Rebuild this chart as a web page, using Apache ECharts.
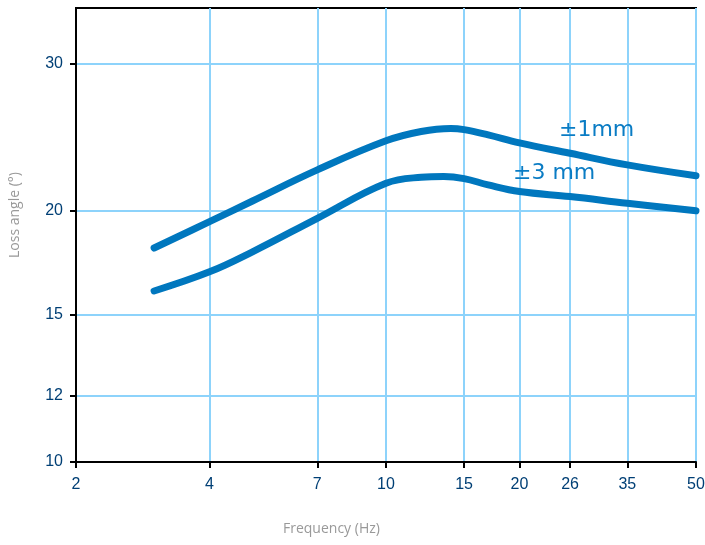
<!DOCTYPE html>
<html>
<head>
<meta charset="utf-8">
<script src="https://cdn.jsdelivr.net/npm/echarts@6/dist/echarts.min.js"></script>
<style>html,body{margin:0;padding:0;background:#fff}#c{width:705px;height:545px}</style>
</head>
<body>
<div id="c"></div>
<script>
// Frequency (Hz) points
var freq1 = [3, 4, 5, 7, 10, 12, 14, 15, 17, 20, 26, 35, 50];
var loss1 = [18.05, 19.41, 20.55, 22.39, 24.26, 24.89, 25.1, 25.02, 24.66, 24.12, 23.44, 22.70, 22.03];
var freq3 = [3, 4, 5, 7, 10, 12, 13.5, 15, 17, 20, 26, 35, 50];
var loss3 = [16.03, 16.90, 17.86, 19.59, 21.58, 21.94, 21.99, 21.86, 21.48, 21.09, 20.80, 20.42, 20.00];
var xTicks = [2, 4, 7, 10, 15, 20, 26, 35, 50];
var yTicks = [10, 12, 15, 20, 30];
var xRange = [2, 50];
var yRange = [10, 35];
var labels = ['±1mm', '±3 mm'];

var L = Math.log10;
function pts(f, v) { return f.map(function (x, i) { return [L(x), L(v[i])]; }); }
var fmt = function (v) { return String(Math.round(Math.pow(10, v))); };

var chart = echarts.init(document.getElementById('c'), null, { renderer: 'canvas' });
var lineColor = '#0077be';
var tickFont = { color: '#003f75', fontSize: 16, fontFamily: 'Liberation Sans, Arial, sans-serif' };
chart.setOption({
  animation: false,
  grid: { left: 76, right: 9, top: 8, bottom: 83, outerBoundsMode: 'none', containLabel: false,
          show: true, borderColor: '#000', borderWidth: 2, backgroundColor: 'transparent' },
  xAxis: {
    type: 'value', min: L(xRange[0]), max: L(xRange[1]),
    axisLine: { show: true, onZero: false, lineStyle: { color: '#000', width: 2 } },
    axisTick: { show: true, length: 6, lineStyle: { color: '#000', width: 2 }, customValues: xTicks.map(L) },
    axisLabel: Object.assign({ margin: 15, formatter: fmt, customValues: xTicks.map(L), showMinLabel: true, showMaxLabel: true }, tickFont),
    splitLine: { show: true, lineStyle: { color: '#8dd3fb', width: 2 } }
  },
  yAxis: {
    type: 'value', min: L(yRange[0]), max: L(yRange[1]),
    axisLine: { show: true, onZero: false, lineStyle: { color: '#000', width: 2 } },
    axisTick: { show: true, length: 6, lineStyle: { color: '#000', width: 2 }, customValues: yTicks.map(L) },
    axisLabel: Object.assign({ margin: 13, formatter: fmt, customValues: yTicks.map(L), showMinLabel: true }, tickFont),
    splitLine: { show: true, lineStyle: { color: '#8dd3fb', width: 2 } }
  },
  series: [
    { type: 'line', data: pts(freq1, loss1), smooth: 0.4, showSymbol: false, z: 5,
      lineStyle: { color: lineColor, width: 7, cap: 'round', join: 'round' } },
    { type: 'line', data: pts(freq3, loss3), smooth: 0.4, showSymbol: false, z: 5,
      lineStyle: { color: lineColor, width: 7, cap: 'round', join: 'round' } }
  ],
  graphic: [
    { type: 'text', left: 559, top: 119, z: 10, style: { text: labels[0], fill: '#0a7cc4', font: '22px "DejaVu Sans", sans-serif' } },
    { type: 'text', left: 513, top: 162, z: 10, style: { text: labels[1], fill: '#0a7cc4', font: '22px "DejaVu Sans", sans-serif' } },
    { type: 'text', left: 283, top: 522, style: { text: 'Frequency (Hz)', fill: '#999', font: '14px "Open Sans", sans-serif' } },
    { type: 'text', x: 8, y: 258, rotation: Math.PI / 2, style: { text: 'Loss angle (°)', fill: '#999', font: '14px "Open Sans", sans-serif' } }
  ]
});
</script>
</body>
</html>
